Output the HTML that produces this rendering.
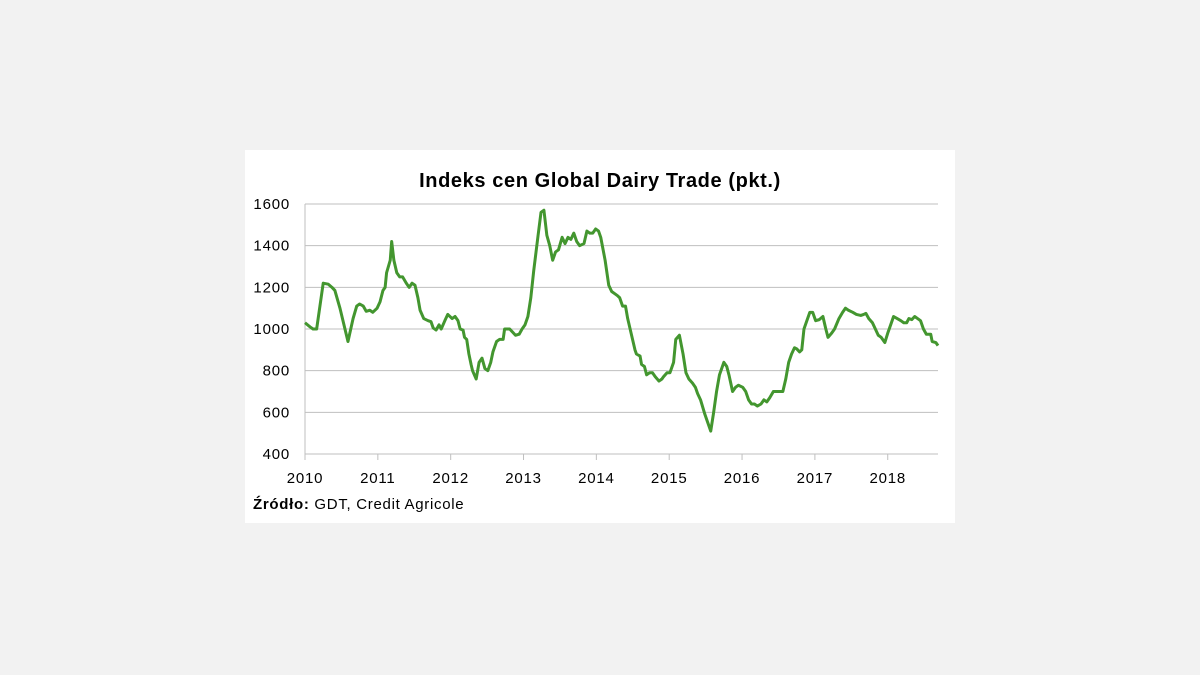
<!DOCTYPE html>
<html><head><meta charset="utf-8"><style>
body{margin:0;background:#f2f2f2;width:1200px;height:675px;overflow:hidden;font-family:"Liberation Sans",Arial,sans-serif}
#card{position:absolute;left:245px;top:150px;width:710px;height:373px;background:#fff}
</style></head><body>
<div id="card">
<svg id="chart" width="710" height="373"></svg>
</div>
<script>
const dates=[2010.00,2010.07,2010.11,2010.16,2010.25,2010.32,2010.37,2010.41,2010.48,2010.59,2010.66,2010.71,2010.75,2010.80,2010.84,2010.89,2010.93,2010.99,2011.03,2011.07,2011.10,2011.12,2011.17,2011.19,2011.22,2011.26,2011.30,2011.34,2011.39,2011.43,2011.47,2011.51,2011.55,2011.58,2011.63,2011.69,2011.73,2011.76,2011.80,2011.84,2011.87,2011.92,2011.96,2012.02,2012.06,2012.10,2012.13,2012.17,2012.19,2012.22,2012.25,2012.28,2012.30,2012.35,2012.39,2012.43,2012.47,2012.51,2012.55,2012.58,2012.63,2012.67,2012.72,2012.74,2012.78,2012.81,2012.85,2012.89,2012.94,2012.98,2013.02,2013.06,2013.10,2013.14,2013.20,2013.24,2013.28,2013.32,2013.36,2013.40,2013.44,2013.48,2013.53,2013.57,2013.61,2013.65,2013.69,2013.73,2013.77,2013.83,2013.87,2013.91,2013.95,2013.99,2014.03,2014.06,2014.12,2014.17,2014.21,2014.25,2014.29,2014.32,2014.36,2014.40,2014.43,2014.49,2014.53,2014.55,2014.60,2014.62,2014.66,2014.69,2014.73,2014.77,2014.81,2014.86,2014.90,2014.92,2014.97,2015.01,2015.06,2015.09,2015.14,2015.19,2015.23,2015.27,2015.32,2015.36,2015.39,2015.43,2015.49,2015.53,2015.57,2015.61,2015.65,2015.69,2015.75,2015.79,2015.82,2015.87,2015.91,2015.95,2016.01,2016.05,2016.09,2016.13,2016.17,2016.21,2016.26,2016.30,2016.34,2016.38,2016.43,2016.49,2016.53,2016.56,2016.60,2016.64,2016.68,2016.72,2016.75,2016.79,2016.82,2016.85,2016.89,2016.93,2016.97,2017.01,2017.06,2017.11,2017.15,2017.18,2017.23,2017.27,2017.33,2017.38,2017.42,2017.46,2017.52,2017.57,2017.63,2017.67,2017.70,2017.74,2017.79,2017.83,2017.87,2017.91,2017.96,2018.00,2018.04,2018.08,2018.13,2018.18,2018.22,2018.26,2018.29,2018.33,2018.37,2018.41,2018.45,2018.49,2018.53,2018.59,2018.61,2018.66,2018.69];
const values=[1030,1010,1000,1000,1220,1215,1200,1185,1100,940,1050,1110,1120,1110,1085,1090,1080,1100,1130,1185,1200,1270,1330,1420,1330,1270,1250,1250,1220,1200,1220,1210,1150,1090,1050,1040,1035,1005,995,1020,1000,1040,1070,1050,1060,1040,1000,995,960,950,880,830,800,760,840,860,810,800,840,890,940,950,950,1000,1000,1000,985,970,975,1000,1020,1060,1150,1280,1450,1560,1570,1450,1400,1330,1370,1380,1440,1410,1440,1430,1460,1420,1400,1410,1470,1460,1460,1480,1470,1440,1330,1210,1180,1170,1160,1150,1110,1110,1050,960,900,880,870,830,820,780,790,790,770,750,760,770,790,790,840,950,970,880,790,760,740,720,690,660,590,550,510,600,700,780,840,820,780,700,720,730,720,700,660,640,640,630,640,660,650,670,700,700,700,700,760,840,880,910,905,890,900,1000,1040,1080,1080,1040,1045,1060,1000,960,980,1000,1050,1080,1100,1090,1080,1070,1065,1070,1075,1050,1030,1000,970,960,935,980,1020,1060,1050,1040,1030,1030,1050,1045,1060,1050,1040,1000,975,975,940,935,920];
const yTicks=[400,600,800,1000,1200,1400,1600];
const xTicks=[2010,2011,2012,2013,2014,2015,2016,2017,2018];
const NS='http://www.w3.org/2000/svg';
const svg=document.getElementById('chart');
const L=60,R=693,T=54,B=304,X0=2010,X1=2018.69,Y0=400,Y1=1600;
const sx=v=>L+(v-X0)/(X1-X0)*(R-L);
const sy=v=>B-(v-Y0)/(Y1-Y0)*(B-T);
function mk(tag,attrs){const e=document.createElementNS(NS,tag);for(const k in attrs)e.setAttribute(k,attrs[k]);svg.appendChild(e);return e;}
const title=mk('text',{x:355,y:37,'text-anchor':'middle','font-size':'20','font-weight':'bold',fill:'#000','letter-spacing':'0.6'});
title.textContent='Indeks cen Global Dairy Trade (pkt.)';


yTicks.forEach(t=>{
 const g=mk('line',{x1:L,x2:R,y1:sy(t),y2:sy(t),stroke:'#bfbfbf','stroke-width':1});
 
 
 const tx=mk('text',{x:L-15,y:sy(t)+5,'text-anchor':'end','font-size':'15',fill:'#000','letter-spacing':'0.8'});
 tx.textContent=t;
 
 
});
const ya=mk('line',{x1:L,x2:L,y1:T,y2:B,stroke:'#bfbfbf'});


xTicks.forEach(t=>{
 const tk=mk('line',{x1:sx(t),x2:sx(t),y1:B,y2:B+6,stroke:'#bfbfbf'});
 
 
 const tx=mk('text',{x:sx(t),y:B+29,'text-anchor':'middle','font-size':'15',fill:'#000','letter-spacing':'0.8'});
 tx.textContent=t;
 
 
});
const line=mk('polyline',{points:dates.map((d,i)=>sx(d)+','+sy(values[i])).join(' '),fill:'none',stroke:'#43962f','stroke-width':3,'stroke-linejoin':'round'});


const src=mk('text',{x:8,y:359,'font-size':'15',fill:'#000','letter-spacing':'0.7'});
src.innerHTML='<tspan font-weight="bold">Źródło:</tspan> GDT, Credit Agricole';


</script>
</body></html>
